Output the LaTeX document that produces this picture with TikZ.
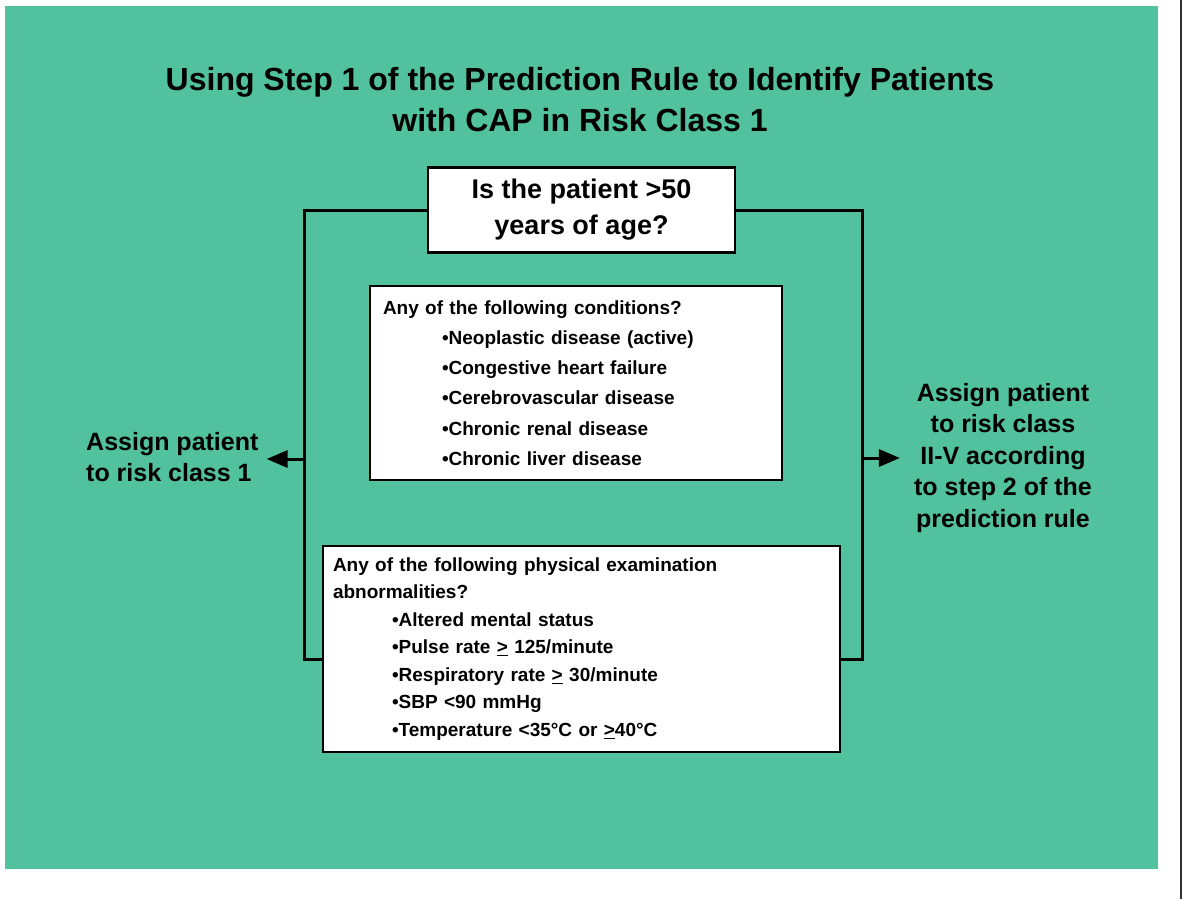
\documentclass[tikz,border=0pt]{standalone}
\usepackage{fontspec}
\setmainfont{Liberation Sans}
\usepackage{tikz}
\usetikzlibrary{shapes, arrows.meta, positioning}
\definecolor{slidegreen}{RGB}{82,193,157}
\newcommand{\bul}{\hspace*{59pt}\textbullet}

\begin{document}
\begin{tikzpicture}[x=1pt, y=-1pt,
    box/.style={draw=black, line width=2.5pt, fill=white, inner sep=0pt},
    frame/.style={line width=3pt},
    arr/.style={line width=3pt, -{Triangle[length=21pt, width=17pt]}},
    label/.style={font=\fontsize{25}{31.5}\selectfont\bfseries, inner sep=0pt}]
  \useasboundingbox (0,0) rectangle (1183,899);
  \fill[white] (0,0) rectangle (1183,899);
  \fill[slidegreen] (5,6) rectangle (1158,869);
  \draw[line width=1.5pt, black!80] (1181,0) -- (1181,899);

  % title
  \node[font=\fontsize{32}{41}\selectfont\bfseries, align=center, inner sep=0pt] (title) at (580,100)
    {Using Step 1 of the Prediction Rule to Identify Patients\\with CAP in Risk Class 1};

  % boxes
  \node[box, align=center, minimum width=307pt, minimum height=85pt,
        font=\fontsize{27}{36}\selectfont\bfseries] (ask) at (581.5,210)
    {Is the patient >50\\years of age?};
  \node[box, line width=2pt, align=left, text width=386pt, minimum width=412pt, minimum height=194pt,
        font=\fontsize{19}{30.2}\selectfont\bfseries] (cond) at (576,383)
    {Any of the following conditions?\\
     \bul Neoplastic disease (active)\\
     \bul Congestive heart failure\\
     \bul Cerebrovascular disease\\
     \bul Chronic renal disease\\
     \bul Chronic liver disease};
  \node[box, line width=2pt, align=left, text width=497pt, minimum width=517pt, minimum height=206pt,
        font=\fontsize{19}{27.5}\selectfont\bfseries] (exam) at (581.5,649)
    {Any of the following physical examination\\
     abnormalities?\\
     \bul Altered mental status\\
     \bul Pulse rate \underline{>} 125/minute\\
     \bul Respiratory rate \underline{>} 30/minute\\
     \bul SBP <90 mmHg\\
     \bul Temperature <35°C or \underline{>}40°C};

  % outcomes
  \node[label, align=left, anchor=west] (left) at (86,457) {Assign patient\\to risk class 1};
  \node[label, align=center] (right) at (1003,458)
    {Assign patient\\to risk class\\II-V according\\to step 2 of the\\prediction rule};

  % connectors
  \coordinate (lfork) at (304,459);
  \coordinate (rfork) at (862,458);
  \draw[frame] (ask.west) -| (lfork) |- ([yshift=-10pt]exam.west);
  \draw[frame] (ask.east) -| (rfork) |- ([yshift=-10pt]exam.east);
  \draw[arr, shorten >=8pt] (lfork) -- (lfork -| left.east);
  \draw[arr, shorten >=14pt] (rfork) -- (rfork -| right.west);
\end{tikzpicture}
\end{document}
